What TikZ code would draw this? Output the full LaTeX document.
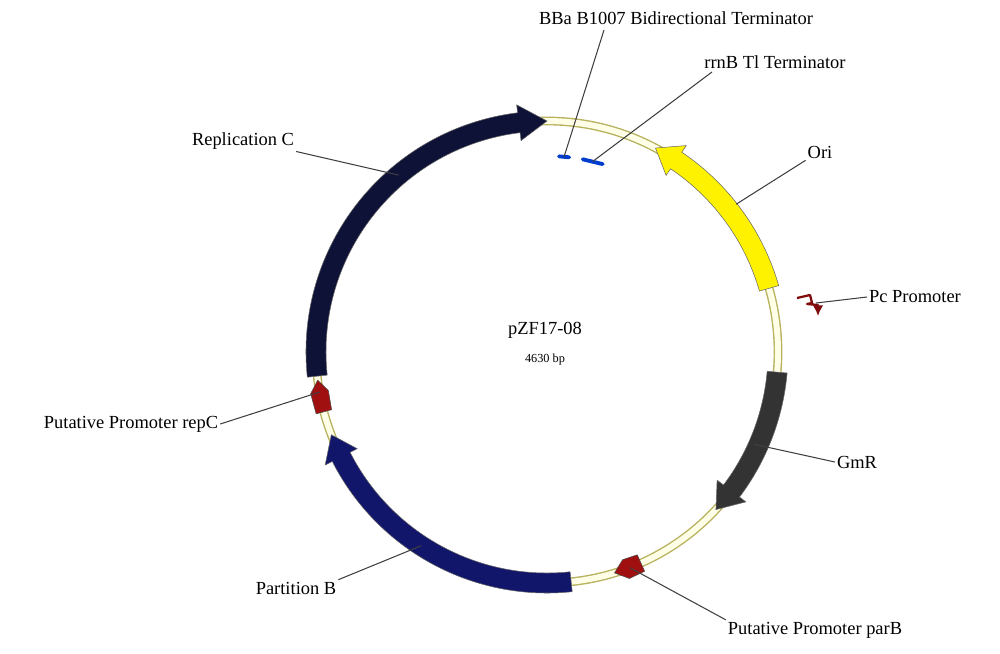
\documentclass[tikz,border=0pt]{standalone}
\usepackage{fontspec}
\setmainfont{Liberation Serif}
\usetikzlibrary{arrows.meta}
\begin{document}
\begin{tikzpicture}[x=0.02cm,y=0.02cm,
  lbl/.style={font=\fontsize{10.5}{12}\selectfont, inner sep=1pt},
  lead/.style={draw=black!75, line width=0.6pt},
  term/.style={draw=blue!70!cyan!80!black, line width=2.2pt, line cap=round}]
\useasboundingbox (0,0) rectangle (1000,-653);
\definecolor{repc}{HTML}{0E1236}
\definecolor{parb}{HTML}{12166A}
\definecolor{gmr}{HTML}{333333}
\definecolor{prom}{HTML}{A01010}
\newcommand{\feat}[5]{% start, body end, tip, color, half width of body
  \fill[#4, draw=black!60, line width=0.3pt, shift={(547,-352)}]
   (#1:231-#5) arc[start angle=#1, end angle=#2, radius=231-#5]
   -- (#2:231-#5-8) -- (#3:231) -- (#2:231+#5+8) -- (#2:231+#5)
   arc[start angle=#2, end angle=#1, radius=231+#5] -- cycle;}
% backbone
\draw[draw=black!20!yellow!60!gray, line width=5pt] (547,-352) circle[radius=231];
\draw[draw=yellow!10!white, line width=3.4pt] (547,-352) circle[radius=231];
\coordinate (c) at (547,-352);
% features
\feat{186}{97}{90}{repc}{10}
\feat{16}{56}{62}{yellow}{10}
\feat{-5}{-37}{-43}{gmr}{10}
\feat{276}{207}{201}{parb}{10}
\fill[prom, draw=black!70, line width=0.3pt, shift={(547,-352)}]
  (195:223) -- (190:222) -- (187:231) -- (190:240) -- (195:239) -- cycle;
\fill[prom, draw=black!70, line width=0.3pt, shift={(547,-352)}]
  (-66:222) -- (-70:221) -- (-73:231) -- (-70:241) -- (-66:240) -- cycle;
\coordinate (repcP) at ([shift={(190:231)}]c);
\coordinate (parbP) at ([shift={(-69:231)}]c);
\coordinate (repC) at ([shift={(130:231)}]c);
\coordinate (parB) at ([shift={(237:231)}]c);
\coordinate (ori) at ([shift={(38:240)}]c);
\coordinate (gmr) at ([shift={(-24:227)}]c);
% terminators
\draw[term] ([shift={(86.5:196)}]c) -- ([shift={(83.5:196)}]c);
\draw[term] ([shift={(79.5:196)}]c) -- ([shift={(73.5:196)}]c);
\coordinate (t1) at ([shift={(85:196)}]c);
\coordinate (t2) at ([shift={(76.5:196)}]c);
% Pc promoter
\draw[prom!80!black, line width=1.3pt, line join=round, -{Latex[length=6pt,width=6pt]}]
  (797,-298) -- (810,-295) -- (812,-303) -- (807,-304) -- (818,-305) -- (818,-316);
\coordinate (pc) at (816,-303);
% labels
\node[lbl] (lt1) at (676,-18) {BBa B1007 Bidirectional Terminator};
\node[lbl] (lt2) at (775,-62) {rrnB Tl Terminator};
\node[lbl] (lori) at (820,-152) {Ori};
\node[lbl] (lpc) at (915,-297) {Pc Promoter};
\node[lbl] (lgmr) at (857,-462) {GmR};
\node[lbl] (lparbP) at (815,-630) {Putative Promoter parB};
\node[lbl] (lparB) at (296,-588) {Partition B};
\node[lbl] (lrepcP) at (131,-424) {Putative Promoter repC};
\node[lbl] (lrepC) at (243,-141) {Replication C};
\node[font=\fontsize{10.5}{12}\selectfont] (name) at (545,-330) {pZF17-08};
\node[font=\fontsize{7}{8}\selectfont] (bp) at (545,-360) {4630 bp};
% leaders
\draw[lead] (604,-30) -- (t1);
\draw[lead] (712,-72) -- (t2);
\draw[lead] (lori.south west) -- (ori);
\draw[lead] (lpc.west) -- (pc);
\draw[lead] (lgmr.west) -- (gmr);
\draw[lead] (lparbP.north west) -- (parbP);
\draw[lead] (lparB.north east) -- (parB);
\draw[lead] (lrepcP.east) -- (repcP);
\draw[lead] (lrepC.south east) -- (repC);
\end{tikzpicture}
\end{document}
